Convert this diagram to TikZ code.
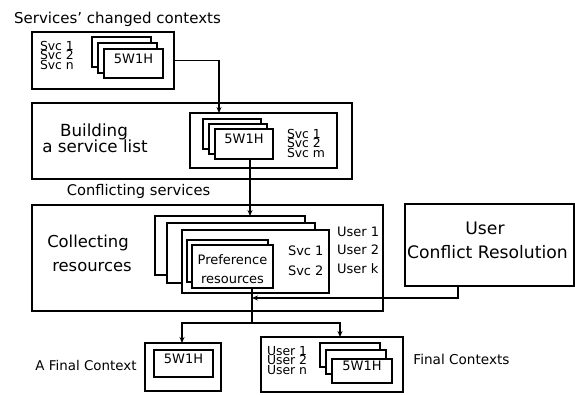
\documentclass[tikz,border=0pt]{standalone}
\usepackage{fontspec}
\setmainfont{DejaVu Sans}
\usetikzlibrary{arrows.meta,fit}
\newcommand\fsz[1]{\fontsize{#1pt}{#1pt}\selectfont}
\begin{document}
\begin{tikzpicture}[x=1pt,y=-1pt,
  bx/.style={draw, line width=1.2pt, fill=white, inner sep=0pt, outer sep=0pt},
  txt/.style={inner sep=0pt, outer sep=0pt},
  small/.style={txt, font=\fsz{13}},
  tight/.style={txt, align=left, anchor=base west, font=\fontsize{12.4pt}{9.7pt}\selectfont},
  sbx/.style={bx, font=\fsz{13}},
  arr/.style={line width=1.2pt, -{Stealth[length=6pt,width=5pt]}},
  ln/.style={line width=1.2pt}]
\useasboundingbox (0,0) rectangle (575,394);

% ---- Box 1: services' changed contexts
\node[txt, font=\fsz{15}, anchor=base] (title) at (117.5,23) {Services' changed contexts};
\node[bx, fit={(32,32) (174,89)}] (b1) {};
\node[tight] (b1s) at (40,69.4) {Svc 1\\Svc 2\\Svc n};
\node[bx, fit={(92,37) (151,67)}] (s1c) {};
\node[bx, fit={(98,43) (157,73)}] (s1b) {};
\node[sbx, fit={(104,49) (163,78)}] (s1a) {5W1H};

% ---- Box 2: building a service list
\node[bx, fit={(32,103) (352,179)}] (b2) {};
\node[txt, font=\fsz{16.7}, anchor=base] (b2t1) at (94,136) {Building};
\node[txt, font=\fsz{16.7}, anchor=base] (b2t2) at (95,152) {a service list};
\node[bx, fit={(190,113) (337,168)}] (in2) {};
\node[bx, fit={(203,119) (261,149)}] (s2c) {};
\node[bx, fit={(209,124) (267,154)}] (s2b) {};
\node[sbx, fit={(215,129) (273,159)}] (s2a) {5W1H};
\node[tight] (b2s) at (287,157.4) {Svc 1\\Svc 2\\Svc m};

\node[txt, font=\fsz{14.7}, anchor=base] (conf) at (138.5,195) {Conflicting services};

% ---- Box 3: collecting resources
\node[bx, fit={(32,205) (383,311)}] (b3) {};
\node[txt, font=\fsz{16.4}, anchor=base] (b3t1) at (88,247.5) {Collecting};
\node[txt, font=\fsz{16.4}, anchor=base] (b3t2) at (92,271) {resources};
\node[bx, fit={(155,216) (305,275)}] (s3c) {};
\node[bx, fit={(167,223) (315,283)}] (s3b) {};
\node[bx, fit={(182,230) (329,293)}] (s3a) {};
\node[bx, fit={(187,240) (268,282)}] (p2) {};
\node[bx, fit={(192,245) (273,288)}] (pf) {};
\node[small, anchor=base] (pft1) at (232.5,264) {Preference};
\node[small, anchor=base] (pft2) at (232.5,283) {resources};
\node[small, anchor=base west] (b3s1) at (288,255) {Svc 1};
\node[small, anchor=base west] (b3s2) at (288,275) {Svc 2};
\node[small, anchor=base west] (b3u1) at (337,236) {User 1};
\node[small, anchor=base west] (b3u2) at (337,254.5) {User 2};
\node[small, anchor=base west] (b3u3) at (337,273) {User k};

% ---- User conflict resolution
\node[bx, fit={(405,204) (574,286)}] (ucr) {};
\node[txt, font=\fsz{17.2}, anchor=base] (ucr1) at (485,234) {User};
\node[txt, font=\fsz{17.2}, anchor=base] (ucr2) at (487.5,258) {Conflict Resolution};

% ---- A final context
\node[txt, font=\fsz{13.4}, anchor=base] (aft) at (86,370) {A Final Context};
\node[bx, fit={(145,343) (221,391)}] (afc) {};
\node[sbx, fit={(154,350) (213,377)}] (afi) {5W1H};

% ---- Final contexts
\node[bx, fit={(261,337) (403,392)}] (fc) {};
\node[tight] (fcu) at (267,374.4) {User 1\\User 2\\User n};
\node[bx, fit={(320,343) (380,367)}] (s4c) {};
\node[bx, fit={(326,350) (386,374)}] (s4b) {};
\node[sbx, fit={(332,359) (392,383)}] (s4a) {5W1H};
\node[txt, font=\fsz{13.6}, anchor=base] (fct) at (461.5,364) {Final Contexts};

% ---- connectors
\coordinate (j1) at (219,113);
\draw[arr] (b1.east) -| (j1);
\coordinate (j2) at (250,0);
\draw[arr] (s2a.south -| j2) -- (s3c.north -| j2);
\coordinate (j3) at (458,0);
\coordinate (j4) at (252,298);
\draw[arr] (ucr.south -| j3) |- (j4);
\coordinate (j5) at (252,323);
\draw[ln] (pf.south -| j5) -- (j5);
\coordinate (j6) at (182,323);
\coordinate (j7) at (340,323);
\draw[arr] (j5) -- (j6) -- (afc.north -| j6);
\draw[arr] (j5) -- (j7) -- (fc.north -| j7);
\end{tikzpicture}
\end{document}
